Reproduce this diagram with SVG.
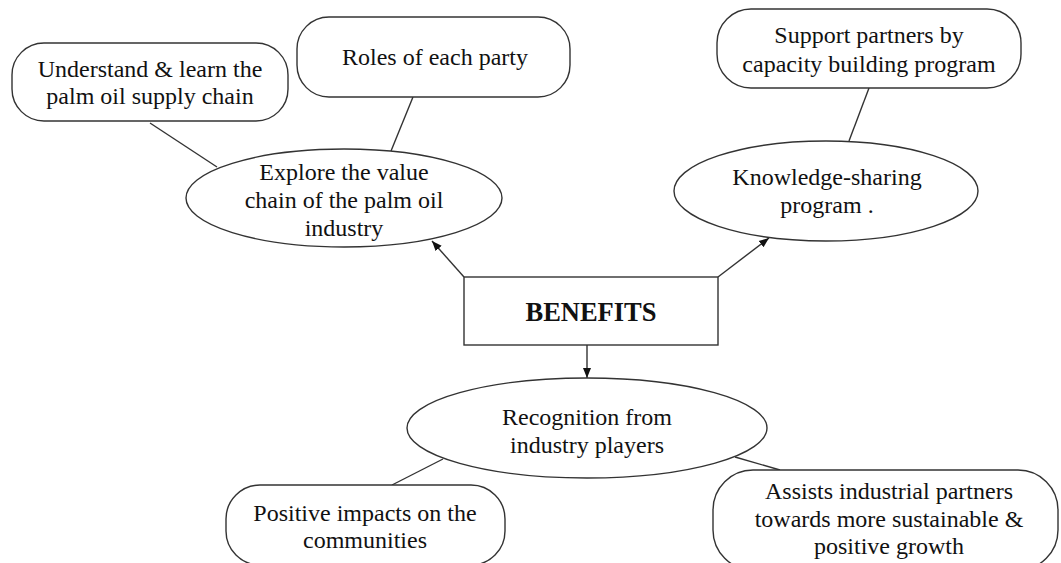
<svg xmlns="http://www.w3.org/2000/svg" width="1061" height="563" viewBox="0 0 1061 563">
<style>
.shape{fill:#fff;stroke:#333;stroke-width:1.4}
.t{font-family:"Liberation Serif","Times New Roman",serif;font-size:24px;fill:#111;text-anchor:middle}
.b{font-weight:bold;font-size:26.5px}
.c{stroke:#333;stroke-width:1.4;fill:none}
</style>
<defs>
<marker id="ah" markerUnits="userSpaceOnUse" markerWidth="10" markerHeight="10" viewBox="0 0 10 10" refX="10" refY="5" orient="auto">
<path d="M0,1 L10,5 L0,9 Z" fill="#111"/>
</marker>
</defs>
<rect width="1061" height="563" fill="#fff"/>
<g id="connectors">
<line class="c" x1="150" y1="123" x2="217" y2="167"/>
<line class="c" x1="413" y1="97" x2="391" y2="151"/>
<line class="c" x1="869" y1="88" x2="849" y2="141"/>
<line class="c" x1="464" y1="277" x2="432" y2="241" marker-end="url(#ah)"/>
<line class="c" x1="718" y1="277" x2="769" y2="238" marker-end="url(#ah)"/>
<line class="c" x1="587" y1="345" x2="587" y2="378" marker-end="url(#ah)"/>
<line class="c" x1="443" y1="459" x2="392" y2="485"/>
<line class="c" x1="735" y1="457" x2="780" y2="470"/>
</g>
<g id="understand">
<rect class="shape" x="12" y="43" width="276" height="78" rx="32"/>
<text class="t" x="150" y="77">Understand &amp; learn the</text>
<text class="t" x="150" y="104">palm oil supply chain</text>
</g>
<g id="roles">
<rect class="shape" x="297" y="17" width="273" height="80" rx="32"/>
<text class="t" x="435" y="65">Roles of each party</text>
</g>
<g id="explore">
<ellipse class="shape" cx="344" cy="198" rx="158" ry="49"/>
<text class="t" x="344" y="180">Explore the value</text>
<text class="t" x="344" y="208">chain of the palm oil</text>
<text class="t" x="344" y="236">industry</text>
</g>
<g id="support">
<rect class="shape" x="717" y="9" width="304" height="79" rx="34"/>
<text class="t" x="869" y="43">Support partners by</text>
<text class="t" x="869" y="72">capacity building program</text>
</g>
<g id="knowledge">
<ellipse class="shape" cx="826" cy="191" rx="152" ry="50"/>
<text class="t" x="827" y="185">Knowledge-sharing</text>
<text class="t" x="827" y="213">program .</text>
</g>
<g id="benefits">
<rect class="shape" x="464" y="277" width="254" height="68"/>
<text class="t b" x="591" y="321">BENEFITS</text>
</g>
<g id="recognition">
<ellipse class="shape" cx="587" cy="428" rx="180" ry="50"/>
<text class="t" x="587" y="425">Recognition from</text>
<text class="t" x="587" y="453">industry players</text>
</g>
<g id="positive">
<rect class="shape" x="226" y="485" width="279" height="80" rx="34"/>
<text class="t" x="365" y="521">Positive impacts on the</text>
<text class="t" x="365" y="548">communities</text>
</g>
<g id="assists">
<rect class="shape" x="713" y="470" width="345" height="100" rx="40"/>
<text class="t" x="889" y="499">Assists industrial partners</text>
<text class="t" x="889" y="527">towards more sustainable &amp;</text>
<text class="t" x="889" y="554">positive growth</text>
</g>
</svg>
